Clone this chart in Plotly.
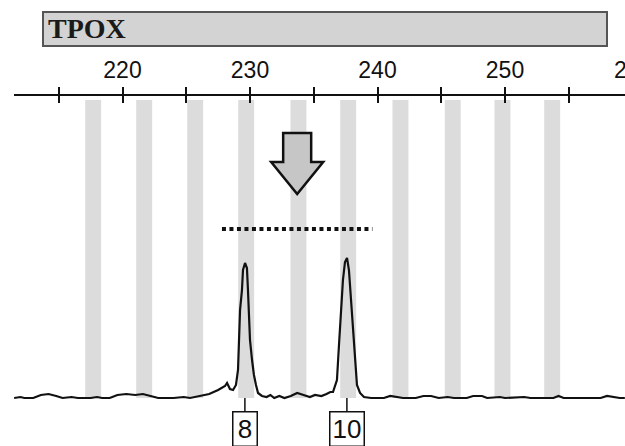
import plotly.graph_objects as go

W, H = 625, 446

# ---- data (bp / RFU) ----
locus = "TPOX"
bin_bp = [217.7, 221.7, 225.7, 229.7, 233.8, 237.7, 241.8, 245.9, 249.8, 253.7]
bin_top_rfu = 2980
allele_labels = ["8", "10"]
allele_bp = [229.6, 237.6]
threshold_bp = [227.8, 239.6]
threshold_rfu = [1690, 1690]
arrow_bp = 233.7

trace_bp = [211.5, 212.0, 212.3, 213.0, 213.6, 214.2, 214.8, 215.3, 216.0, 216.5,
            217.5, 218.0, 218.4, 219.0, 219.6, 220.3, 221.0, 221.6, 222.2, 222.8,
            224.0, 224.8, 225.3, 226.2, 226.8, 227.5, 228.04, 228.2, 228.43, 228.67,
            228.9, 229.06, 229.14, 229.22, 229.37, 229.45, 229.61, 229.76, 229.84, 230.0,
            230.16, 230.31, 230.47, 230.63, 230.94, 231.3, 231.6, 231.9, 232.3, 232.7,
            233.2, 233.7, 234.2, 234.7, 235.1, 235.6, 236.0, 236.3, 236.51, 236.82,
            236.98, 237.14, 237.29, 237.45, 237.61, 237.76, 237.92, 238.08, 238.24, 238.39,
            238.63, 238.94, 239.5, 240.5, 241.0, 241.5, 242.0, 243.0, 243.6, 244.2,
            244.8, 245.5, 246.0, 247.0, 247.5, 248.2, 248.6, 249.6, 250.0, 251.5,
            252.0, 253.8, 254.2, 254.6, 257.5, 258.0, 258.5, 259.0, 259.4]
trace_rfu = [0, 10, 0, 0, 30, 40, 20, 0, 10, 0,
             0, 10, 0, 0, 30, 40, 30, 40, 20, 0,
             0, 10, 0, 20, 40, 80, 120, 150, 90, 80,
             130, 280, 680, 880, 1080, 1280, 1350, 1300, 1080, 580,
             380, 230, 130, 50, 20, 10, 30, 0, 20, 0,
             20, 50, 30, 10, 30, 20, 40, 60, 60, 180,
             530, 880, 1180, 1360, 1400, 1280, 980, 680, 380, 130,
             50, 10, 0, 0, 20, 10, 0, 0, 20, 20,
             0, 10, 0, 0, 20, 20, 0, 10, 0, 10,
             0, 0, 20, 0, 0, 20, 10, 0, 0]

major_ticks = [220, 230, 240, 250]
extra_tick_label = "260"

# ---- pixel helpers for decoration ----
def px(x):
    return x / W

def py(y):
    return 1 - y / H

x_left_px = 14
bp_per_px = 1 / 12.75
x0_bp = 230 + (x_left_px - 250) * bp_per_px
x1_bp = 230 + (W - 250) * bp_per_px

tick_font = dict(family="Liberation Sans, Arial", size=23, color="#111")

fig = go.Figure()

fig.add_trace(go.Bar(
    x=bin_bp, y=[bin_top_rfu] * len(bin_bp), base=0,
    width=1.25, marker=dict(color="#dcdcdc", line=dict(width=0)),
    hoverinfo="skip"))

fig.add_trace(go.Scatter(
    x=trace_bp, y=trace_rfu, mode="lines",
    line=dict(color="#111111", width=2.2), hoverinfo="skip"))

fig.add_trace(go.Scatter(
    x=threshold_bp, y=threshold_rfu, mode="lines", xaxis="x2",
    line=dict(color="#111111", width=4, dash="4px,3.5px"), hoverinfo="skip"))

axis_pos = py(95)
common = dict(range=[x0_bp, x1_bp], domain=[px(x_left_px), 1], anchor="free",
              position=axis_pos, side="top", showgrid=False, zeroline=False,
              fixedrange=True)
fig.update_layout(
    width=W, height=H, margin=dict(l=0, r=0, t=0, b=0),
    paper_bgcolor="white", plot_bgcolor="white", showlegend=False,
    xaxis=dict(**common, tickvals=major_ticks, ticks="outside", ticklen=7,
               tickwidth=2, tickcolor="#111", showline=True, linewidth=2,
               linecolor="#111",
               tickfont=tick_font,
               minor=dict(dtick=5, tick0=0, ticks="outside", ticklen=7,
                          tickwidth=2, tickcolor="#111"),
               ticklabelstandoff=0),
    xaxis2=dict(**common, overlaying="x", matches="x", tickvals=major_ticks,
                ticks="inside", ticklen=7, tickwidth=2, tickcolor="#111",
                showticklabels=False, showline=False,
                minor=dict(dtick=5, tick0=0, ticks="inside", ticklen=7,
                           tickwidth=2, tickcolor="#111")),
    yaxis=dict(range=[-480, 3980], domain=[0, 1], visible=False, fixedrange=True),
)

# title bar
fig.add_shape(type="rect", xref="paper", yref="paper",
              x0=px(43), x1=px(607), y0=py(46), y1=py(12),
              fillcolor="#d3d3d3", line=dict(color="#555", width=2), layer="above")
fig.add_annotation(xref="paper", yref="paper", x=px(46), y=py(29),
                   xanchor="left", yanchor="middle", text="<b>" + locus + "</b>",
                   showarrow=False,
                   font=dict(family="Liberation Serif, Times New Roman", size=28,
                             color="#1a1a1a"))

# partially visible 260 label
fig.add_annotation(xref="paper", yref="paper", x=px(250 + 30 * 12.75), y=py(70),
                   xanchor="center", yanchor="middle", text=extra_tick_label,
                   showarrow=False, font=tick_font)

# down arrow
cx = 250 + (arrow_bp - 230) * 12.75
pts = [(cx - 14, 133), (cx + 14, 133), (cx + 14, 162), (cx + 26, 162),
       (cx, 194), (cx - 26, 162), (cx - 14, 162)]
path = "M " + " L ".join(f"{px(a):.5f},{py(b):.5f}" for a, b in pts) + " Z"
fig.add_shape(type="path", xref="paper", yref="paper", path=path,
              fillcolor="#c6c6c6", line=dict(color="#111", width=2.5))

# allele labels
box_w = {"8": 21, "10": 31}
for lab, xb in zip(allele_labels, allele_bp):
    fig.add_annotation(x=xb, y=0, xref="x", yref="y", text=lab,
                       showarrow=True, arrowhead=0, arrowwidth=1.5,
                       arrowcolor="#111", ax=0, ay=31, standoff=0,
                       width=box_w[lab], height=31, valign="middle",
                       bordercolor="#111", borderwidth=1.5, borderpad=1,
                       bgcolor="white",
                       font=dict(family="Liberation Sans Narrow, Liberation Sans, Arial",
                                 size=26, color="#111"))

fig.write_html("out.html", config={"displayModeBar": False},
               post_script="document.body.style.margin='0';document.body.style.overflow='hidden';")
